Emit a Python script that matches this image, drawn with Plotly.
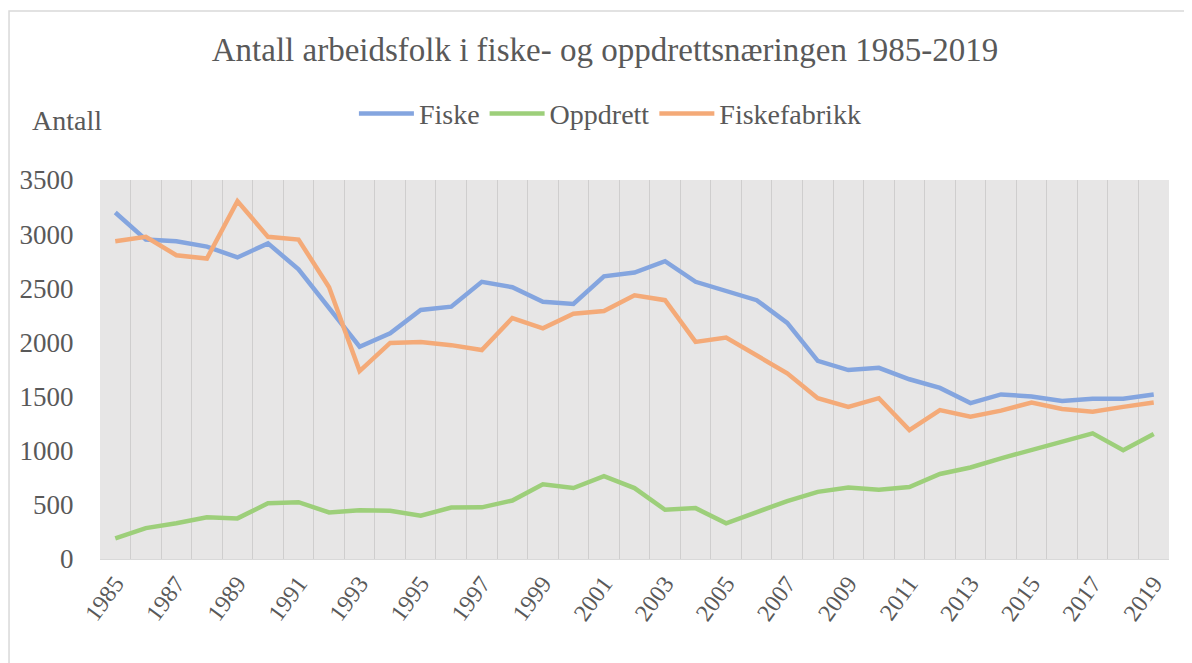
import plotly.graph_objects as go

years = list(range(1985, 2020))

fiske = [3200, 2950, 2935, 2885, 2785, 2915, 2675, 2320, 1960, 2085,
         2300, 2330, 2560, 2510, 2375, 2355, 2610, 2645, 2750, 2560,
         2480, 2390, 2180, 1830, 1745, 1765, 1660, 1580, 1440, 1520,
         1500, 1460, 1480, 1480, 1520]
oppdrett = [190, 285, 330, 385, 375, 515, 525, 430, 450, 445,
            400, 475, 477, 540, 690, 655, 765, 655, 455, 470,
            330, 435, 535, 620, 660, 640, 665, 785, 845, 930,
            1010, 1090, 1160, 1005, 1155]
fabrikk = [2935, 2975, 2805, 2775, 3305, 2975, 2950, 2510, 1735, 1995,
           2005, 1975, 1930, 2225, 2130, 2265, 2290, 2435, 2390, 2005,
           2045, 1880, 1715, 1485, 1405, 1485, 1190, 1375, 1315, 1370,
           1445, 1385, 1360, 1405, 1445]

odd_years = [y for y in years if y % 2 == 1]
txt = '#595959'
font = 'Liberation Serif, Times New Roman, serif'

fig = go.Figure()
fig.add_trace(go.Scatter(x=years, y=fiske, name='Fiske', mode='lines',
                         line=dict(color='#84A5DF', width=4.5)))
fig.add_trace(go.Scatter(x=years, y=oppdrett, name='Oppdrett', mode='lines',
                         line=dict(color='#9DCF7A', width=4.5)))
fig.add_trace(go.Scatter(x=years, y=fabrikk, name='Fiskefabrikk', mode='lines',
                         line=dict(color='#F4AA78', width=4.5)))

fig.update_layout(
    width=1192, height=663,
    margin=dict(l=92, r=31, t=172, b=112),
    paper_bgcolor='white', plot_bgcolor='#E7E6E6',
    font=dict(family=font, color=txt, size=24),
    title=dict(text='Antall arbeidsfolk i fiske- og oppdrettsnæringen 1985-2019',
               x=0.5008, xanchor='center', y=0.937, yanchor='middle',
               font=dict(size=33, color=txt)),
    legend=dict(orientation='h', x=0.477, xanchor='center', y=1.175, yanchor='middle',
                font=dict(size=28, color=txt), bgcolor='rgba(0,0,0,0)',
                itemwidth=55),
    showlegend=True,
    annotations=[dict(text='Antall', xref='paper', yref='paper', x=-0.0655, y=1.158,
                      xanchor='left', yanchor='middle', showarrow=False,
                      font=dict(size=28, color=txt))],
    shapes=[dict(type='rect', xref='paper', yref='paper', x0=-0.0851, x1=1.2,
                 y0=-0.5, y1=1.446, line=dict(color='#D9D9D9', width=1.5),
                 fillcolor='rgba(0,0,0,0)', layer='below')],
)
fig.update_xaxes(range=[1984.5, 2019.5], tickmode='array', tickvals=odd_years,
                 tickangle=-54, showgrid=False, zeroline=False,
                 showline=True, linecolor='#D9D9D9', linewidth=1,
                 ticks='', tickfont=dict(size=24, color=txt),
                 minor=dict(tick0=1984.5, dtick=1, showgrid=True,
                            gridcolor='#CFCECE', gridwidth=1, ticks=''))
fig.update_yaxes(range=[0, 3500], dtick=500, showgrid=False, zeroline=False,
                 ticks='outside', ticklen=20, tickcolor='rgba(0,0,0,0)',
                 tickfont=dict(size=27, color=txt))

fig.write_html('out.html')
